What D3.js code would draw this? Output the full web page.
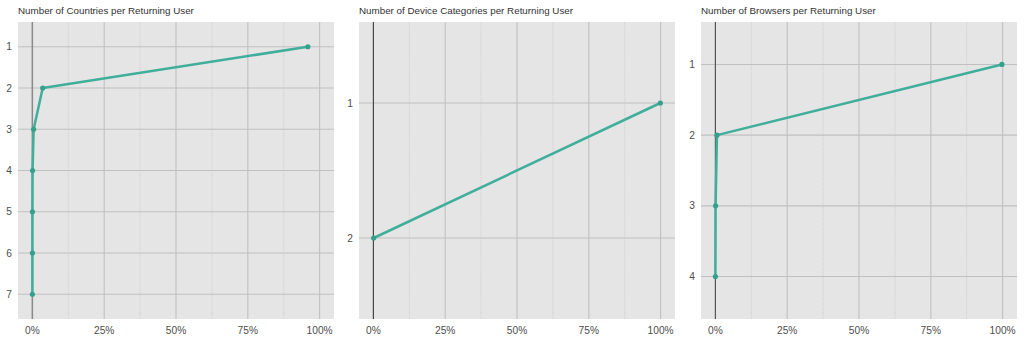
<!DOCTYPE html>
<html>
<head>
<meta charset="utf-8">
<script src="https://cdn.jsdelivr.net/npm/d3@7"></script>
<style>
  html, body { margin: 0; padding: 0; background: #ffffff; }
  svg { display: block; }
  text { font-family: "Liberation Sans", Arial, sans-serif; }
</style>
</head>
<body>
<svg id="chart" width="1024" height="341"></svg>
<script>
// Share of returning users by how many distinct countries / devices / browsers they used
const countryLevels = ["1", "2", "3", "4", "5", "6", "7"];
const countryShare  = [0.959, 0.036, 0.0045, 0.0007, 0.0003, 0.0002, 0.0001];

const deviceLevels = ["1", "2"];
const deviceShare  = [0.999, 0.001];

const browserLevels = ["1", "2", "3", "4"];
const browserShare  = [0.9975, 0.0055, 0.0008, 0.0002];

const xTicks = [0, 0.25, 0.5, 0.75, 1];
const xMinorTicks = [0.125, 0.375, 0.625, 0.875];

const panels = [
  { title: "Number of Countries per Returning User", levels: countryLevels, values: countryShare,
    left: 18, vlineColor: "#8a8a8a", vlineWidth: 1.5 },
  { title: "Number of Device Categories per Returning User", levels: deviceLevels, values: deviceShare,
    left: 359, vlineColor: "#333333", vlineWidth: 1 },
  { title: "Number of Browsers per Returning User", levels: browserLevels, values: browserShare,
    left: 701, vlineColor: "#444444", vlineWidth: 1 }
];

const svg = d3.select("#chart");
const plotTop = 22, plotBottom = 319, plotW = 316;
const lineColor = "#3fae9a";

panels.forEach(p => {
  const g = svg.append("g");
  const n = p.levels.length;

  // continuous x with 5% padding on both sides
  const x = d3.scaleLinear().domain([-0.05, 1.05]).range([p.left, p.left + plotW]);
  // discrete y: level i sits at position i+1, padded by 0.6 of a step
  const y = d3.scaleLinear().domain([0.4, n + 0.6]).range([plotTop, plotBottom]);
  const yPos = i => y(i + 1);

  g.append("text")
    .attr("x", p.left).attr("y", 13.5)
    .attr("font-size", 9.8).attr("fill", "#333")
    .text(p.title);

  g.append("rect")
    .attr("x", p.left).attr("y", plotTop)
    .attr("width", plotW).attr("height", plotBottom - plotTop)
    .attr("fill", "#e5e5e5");

  // minor vertical grid
  g.selectAll(".minor").data(xMinorTicks).join("line")
    .attr("x1", d => x(d)).attr("x2", d => x(d))
    .attr("y1", plotTop).attr("y2", plotBottom)
    .attr("stroke", "#d2d2d2").attr("stroke-width", 1)
    .attr("stroke-dasharray", "1.5,1");

  // major vertical grid
  g.selectAll(".majorx").data(xTicks).join("line")
    .attr("x1", d => x(d)).attr("x2", d => x(d))
    .attr("y1", plotTop).attr("y2", plotBottom)
    .attr("stroke", "#c0c0c0").attr("stroke-width", 1.1);

  // horizontal grid at each level
  g.selectAll(".majory").data(p.levels).join("line")
    .attr("x1", p.left).attr("x2", p.left + plotW)
    .attr("y1", (d, i) => yPos(i)).attr("y2", (d, i) => yPos(i))
    .attr("stroke", "#c0c0c0").attr("stroke-width", 1.1);

  // zero reference line
  g.append("line")
    .attr("x1", x(0)).attr("x2", x(0))
    .attr("y1", plotTop).attr("y2", plotBottom)
    .attr("stroke", p.vlineColor).attr("stroke-width", p.vlineWidth);

  // x tick labels
  g.selectAll(".xl").data(xTicks).join("text")
    .attr("x", d => x(d)).attr("y", 334)
    .attr("text-anchor", "middle")
    .attr("font-size", 10.2).attr("fill", "#4d4d4d")
    .text(d3.format(".0%"));

  // y tick labels
  g.selectAll(".yl").data(p.levels).join("text")
    .attr("x", p.left - 6).attr("y", (d, i) => yPos(i))
    .attr("dy", "0.35em")
    .attr("text-anchor", "end")
    .attr("font-size", 10.2).attr("fill", "#4d4d4d")
    .text(d => d);

  const pts = p.values.map((v, i) => [x(v), yPos(i)]);

  g.append("path")
    .attr("d", d3.line()(pts))
    .attr("fill", "none")
    .attr("stroke", lineColor).attr("stroke-width", 2.5)
    .attr("stroke-linejoin", "round");

  g.selectAll(".pt").data(pts).join("circle")
    .attr("cx", d => d[0]).attr("cy", d => d[1])
    .attr("r", 2.6)
    .attr("fill", "#35a08c");
});
</script>
</body>
</html>
